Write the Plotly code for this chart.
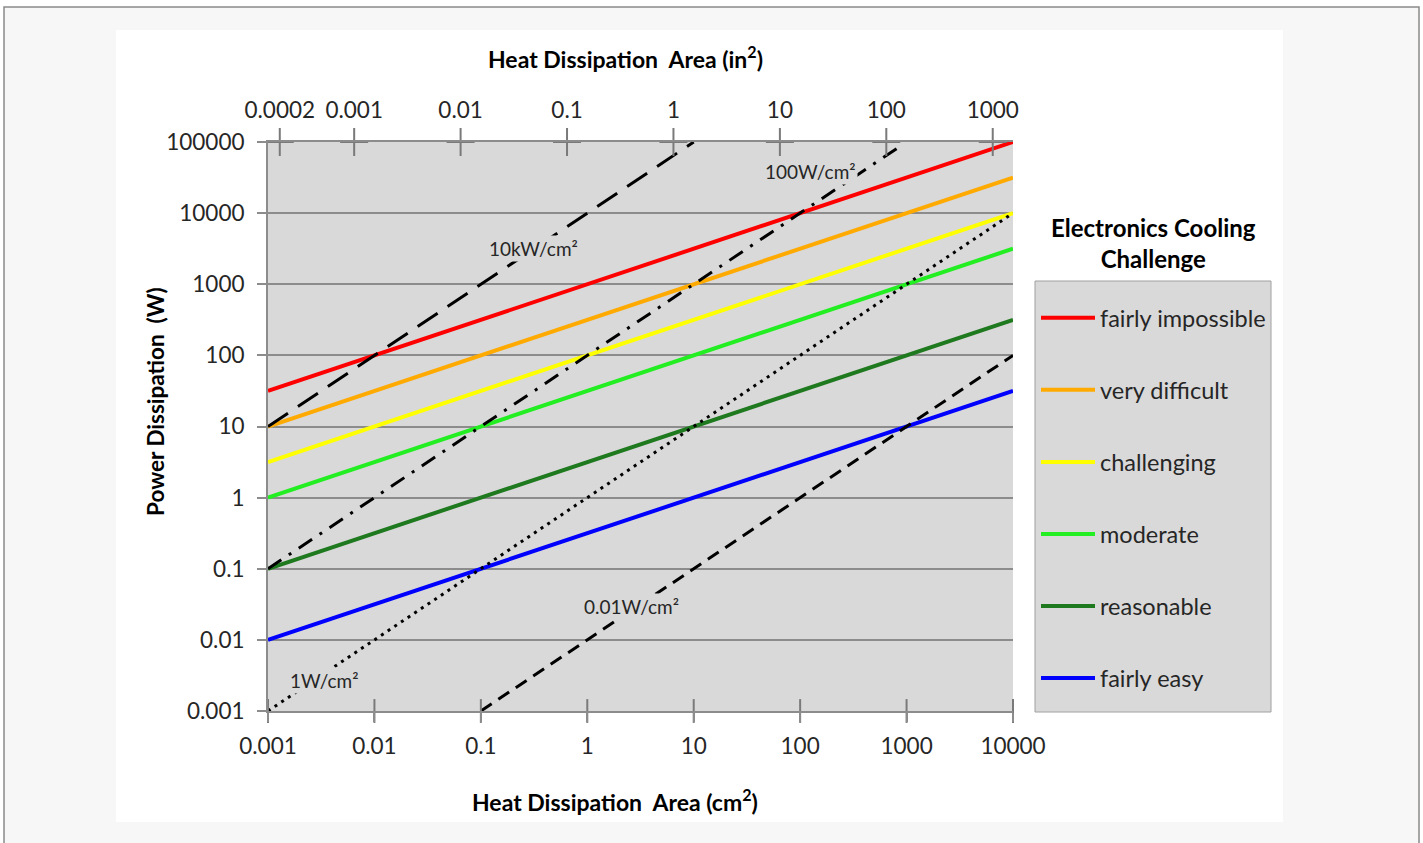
import math
import plotly.graph_objects as go

# ---- data -------------------------------------------------------------
area_cm2 = [0.001, 10000]                      # heat dissipation area range (cm^2)

fairly_impossible = [31.6, 100000]
very_difficult = [10.0, 31600]
challenging = [3.16, 10000]
moderate = [1.0, 3160]
reasonable = [0.1, 316]
fairly_easy = [0.01, 31.6]

challenge_names = ["fairly impossible", "very difficult", "challenging",
                   "moderate", "reasonable", "fairly easy"]
challenge_colors = ["#ff0000", "#ffaa00", "#ffff00", "#22ee22", "#1f7a1f", "#0000ff"]
challenge_values = [fairly_impossible, very_difficult, challenging,
                    moderate, reasonable, fairly_easy]

# constant heat-flux reference lines
flux_10kw_x = [0.001, 10]
flux_10kw_y = [10, 100000]
flux_100w_x = [0.001, 830]
flux_100w_y = [0.1, 83000]
flux_1w_x = [0.001, 10000]
flux_1w_y = [0.001, 10000]
flux_001w_x = [0.1, 10000]
flux_001w_y = [0.001, 100]

flux_labels = ["10kW/cm²", "100W/cm²", "1W/cm²", "0.01W/cm²"]
flux_label_x = [0.309, 124, 0.00343, 2.63]
flux_label_y = [3200, 39000, 0.0027, 0.029]

# tick values
cm2_ticks = [0.001, 0.01, 0.1, 1, 10, 100, 1000, 10000]
cm2_ticktext = ["0.001", "0.01", "0.1", "1", "10", "100", "1000", "10000"]
in2_ticks = [0.0002, 0.001, 0.01, 0.1, 1, 10, 100, 1000]
in2_ticktext = ["0.0002", "0.001", "0.01", "0.1", "1", "10", "100", "1000"]
w_ticks = [0.001, 0.01, 0.1, 1, 10, 100, 1000, 10000, 100000]
w_ticktext = ["0.001", "0.01", "0.1", "1", "10", "100", "1000", "10000", "100000"]

CM2_PER_IN2 = 6.4516

# ---- layout geometry (pixels) -----------------------------------------
W, H = 1423, 843
L, R, T, B = 268, 1013, 142, 711
PW, PH = R - L, B - T


def px(x):
    return (x - L) / PW


def py(y):
    return (B - y) / PH


FONT = "Lato, 'Open Sans', sans-serif"
PLOT_BG = "#d9d9d9"
AXIS_GRAY = "#8c8c8c"
TEXT = "#262626"

fig = go.Figure()

# challenge bands
for name, color, vals in zip(challenge_names, challenge_colors, challenge_values):
    fig.add_trace(go.Scatter(
        x=area_cm2, y=vals, mode="lines", name=name, legendgroup=name,
        line=dict(color=color, width=4), hoverinfo="skip"))

# heat-flux reference lines
ref_lines = [
    (flux_10kw_x, flux_10kw_y, "24px,12px"),
    (flux_100w_x, flux_100w_y, "16px,9px,3px,9px"),
    (flux_1w_x, flux_1w_y, "3px,5px"),
    (flux_001w_x, flux_001w_y, "13px,8px"),
]
for xs, ys, dash in ref_lines:
    fig.add_trace(go.Scatter(
        x=xs, y=ys, mode="lines", showlegend=False,
        line=dict(color="black", width=3, dash=dash), hoverinfo="skip"))

# cross-shaped tick marks on the top (in^2) axis
fig.add_trace(go.Scatter(
    x=in2_ticks, y=[w_ticks[-1]] * len(in2_ticks), xaxis="x2", yaxis="y",
    mode="markers", showlegend=False, cliponaxis=False, hoverinfo="skip",
    marker=dict(symbol="cross-thin", size=20, line=dict(color="#7a7a7a", width=2))))

# bottom (cm^2) ticks crossing the axis line
fig.add_trace(go.Scatter(
    x=cm2_ticks, y=[w_ticks[0]] * len(cm2_ticks),
    mode="markers", showlegend=False, cliponaxis=False, hoverinfo="skip",
    marker=dict(symbol="line-ns", size=17, line=dict(color="#7a7a7a", width=2))))

# line labels (annotation coordinates on log axes are given as log10)
for txt, lx, ly in zip(flux_labels, flux_label_x, flux_label_y):
    fig.add_annotation(x=math.log10(lx), y=math.log10(ly), xref="x", yref="y",
                       text=txt, showarrow=False, bgcolor=PLOT_BG,
                       xanchor="center", yanchor="middle",
                       font=dict(family=FONT, size=19, color=TEXT))

# page frame and chart background
shapes = [
    dict(type="rect", xref="paper", yref="paper", layer="below",
         x0=px(4), x1=px(1419), y0=py(7), y1=py(860),
         fillcolor="#f7f7f7", line=dict(color="#8a8a8a", width=1.5)),
    dict(type="rect", xref="paper", yref="paper", layer="below",
         x0=px(116), x1=px(1283), y0=py(30), y1=py(822),
         fillcolor="white", line=dict(width=0)),
    dict(type="rect", xref="paper", yref="paper", layer="below",
         x0=0, x1=1, y0=0, y1=1, fillcolor=PLOT_BG, line=dict(width=0)),
    # legend box
    dict(type="rect", xref="paper", yref="paper", layer="below",
         x0=px(1035), x1=px(1271), y0=py(281), y1=py(712),
         fillcolor=PLOT_BG, line=dict(color="#a0a0a0", width=1)),
]

annotations_extra = [
    dict(x=px(625), y=py(57),
         text="<b>Heat Dissipation  Area (in<sup>2</sup>)</b>",
         font=dict(family=FONT, size=23, color="black")),
    dict(x=px(615), y=py(800),
         text="<b>Heat Dissipation  Area (cm<sup>2</sup>)</b>",
         font=dict(family=FONT, size=23, color="black")),
    dict(x=px(155), y=py(402),
         text="<b>Power Dissipation  (W)</b>", textangle=-90,
         font=dict(family=FONT, size=22.5, color="black")),
    dict(x=px(1153), y=py(243),
         text="<b>Electronics Cooling<br>Challenge</b>",
         font=dict(family=FONT, size=24, color="black")),
]
for a in annotations_extra:
    fig.add_annotation(xref="paper", yref="paper", showarrow=False,
                       xanchor="center", yanchor="middle", **a)

fig.update_layout(
    width=W, height=H, autosize=False,
    margin=dict(l=L, r=W - R, t=T, b=H - B, pad=0),
    paper_bgcolor="white", plot_bgcolor=PLOT_BG,
    font=dict(family=FONT, size=22, color=TEXT),
    shapes=shapes,
    xaxis=dict(type="log", range=[-3, 4], tickvals=cm2_ticks, ticktext=cm2_ticktext,
               showgrid=False, zeroline=False, showline=True,
               linecolor=AXIS_GRAY, linewidth=2,
               ticks="outside", ticklen=9, tickwidth=2, tickcolor=AXIS_GRAY,
               ticklabelstandoff=5, tickfont=dict(size=22.5, color=TEXT)),
    xaxis2=dict(type="log", overlaying="x", side="top",
                range=[-3 - math.log10(CM2_PER_IN2), 4 - math.log10(CM2_PER_IN2)],
                tickvals=in2_ticks, ticktext=in2_ticktext,
                showgrid=False, zeroline=False, showline=True,
                linecolor=AXIS_GRAY, linewidth=2, ticks="",
                ticklabelstandoff=13, tickfont=dict(size=22.5, color=TEXT)),
    yaxis=dict(type="log", range=[-3, 5], tickvals=w_ticks, ticktext=w_ticktext,
               showgrid=True, gridcolor=AXIS_GRAY, gridwidth=1.5,
               zeroline=False, showline=True, linecolor=AXIS_GRAY, linewidth=2,
               ticks="outside", ticklen=9, tickwidth=2, tickcolor=AXIS_GRAY,
               ticklabelstandoff=8, tickfont=dict(size=22.5, color=TEXT)),
    legend=dict(x=px(1036), y=py(296), xanchor="left", yanchor="top",
                bgcolor="rgba(0,0,0,0)", borderwidth=0,
                traceorder="grouped", tracegroupgap=38.5,
                font=dict(family=FONT, size=23.5, color=TEXT),
                itemwidth=54),
    showlegend=True,
)

fig.write_html("out.html")
